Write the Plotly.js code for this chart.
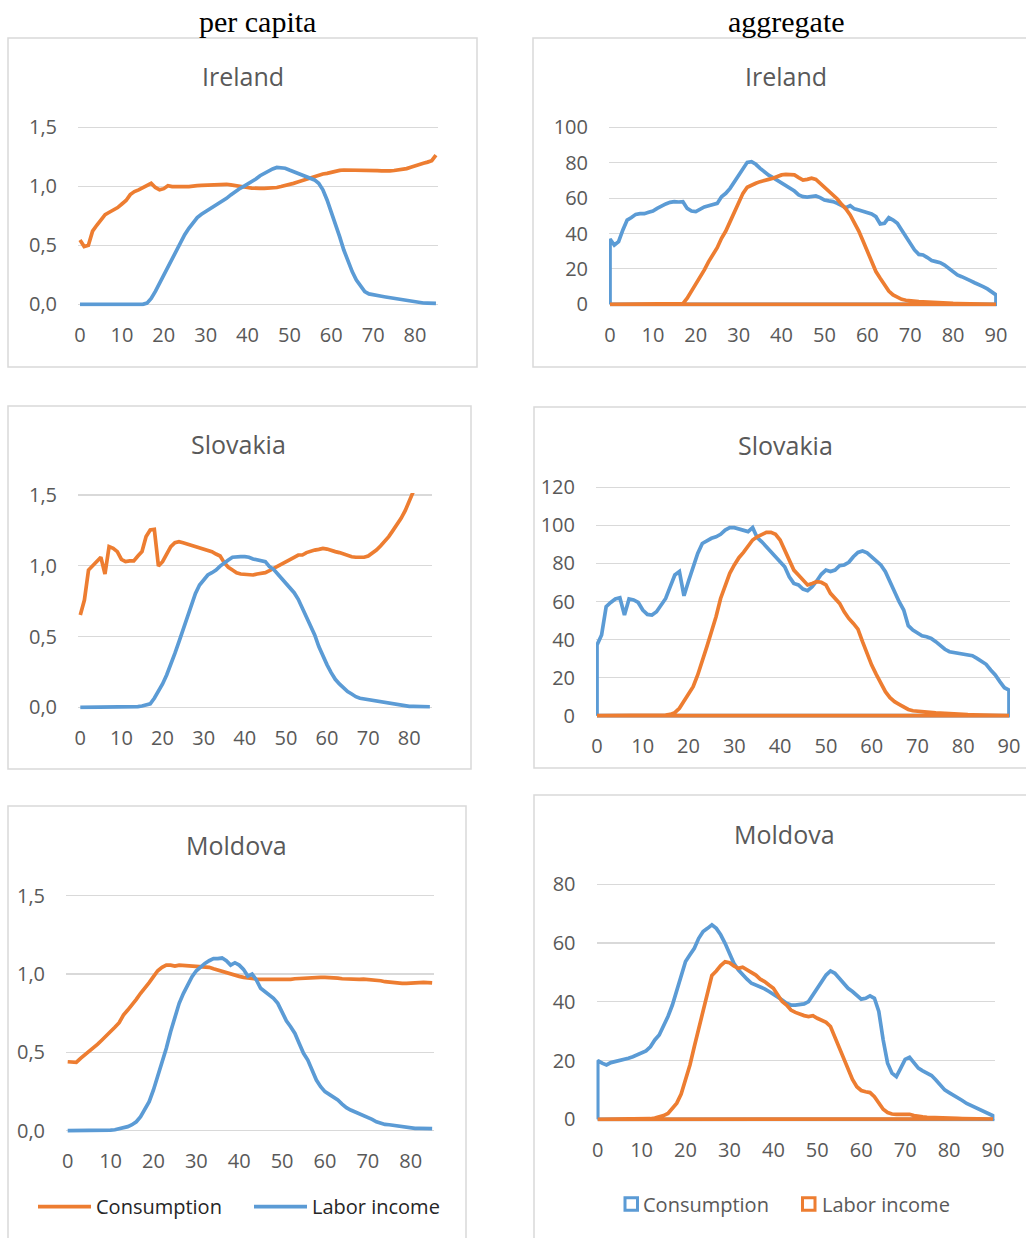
<!DOCTYPE html>
<html><head><meta charset="utf-8">
<script src="https://cdn.plot.ly/plotly-3.0.1.min.js"></script>
<style>html,body{margin:0;padding:0;background:#fff}#chart{width:1026px;height:1238px}</style>
</head><body><div id="chart"></div>
<script>
// ---------- DATA ----------
const agesPerCapita = [0,1,2,3,4,5,6,7,8,9,10,11,12,13,14,15,16,17,18,19,20,21,22,23,24,25,26,27,28,29,30,31,32,33,34,35,36,37,38,39,40,41,42,43,44,45,46,47,48,49,50,51,52,53,54,55,56,57,58,59,60,61,62,63,64,65,66,67,68,69,70,71,72,73,74,75,76,77,78,79,80,81,82,83,84,85];
const agesAggregate = [0,1,2,3,4,5,6,7,8,9,10,11,12,13,14,15,16,17,18,19,20,21,22,23,24,25,26,27,28,29,30,31,32,33,34,35,36,37,38,39,40,41,42,43,44,45,46,47,48,49,50,51,52,53,54,55,56,57,58,59,60,61,62,63,64,65,66,67,68,69,70,71,72,73,74,75,76,77,78,79,80,81,82,83,84,85,86,87,88,89,90];

const seriesNames = ['Consumption', 'Labor income'];
const countries = ['Ireland', 'Slovakia', 'Moldova'];
const columnHeaders = ['per capita', 'aggregate'];

const perCapitaTicks = [0,10,20,30,40,50,60,70,80];
const aggregateTicks = [0,10,20,30,40,50,60,70,80,90];
const perCapitaYTickVals = [0,0.5,1,1.5];
const perCapitaYTickText = ['0,0','0,5','1,0','1,5'];
const irelandAggYTicks = [0,20,40,60,80,100];
const slovakiaAggYTicks = [0,20,40,60,80,100,120];
const moldovaAggYTicks = [0,20,40,60,80];

// Ireland per capita
const irelandPcConsumption = [0.545,0.49,0.50,0.62,0.67,0.71,0.76,0.78,0.80,0.82,0.85,0.88,0.93,0.955,0.97,0.99,1.01,1.025,0.99,0.97,0.98,1.005,0.997,0.995,0.995,0.997,0.998,0.998,1.005,1.008,1.01,1.012,1.016,1.02,1.018,1.017,1.012,1.005,0.998,0.993,0.99,0.985,0.98,0.982,0.983,0.983,0.985,0.99,0.998,1.005,1.015,1.025,1.036,1.048,1.06,1.073,1.085,1.096,1.104,1.11,1.12,1.13,1.135,1.138,1.138,1.138,1.138,1.137,1.136,1.135,1.134,1.132,1.13,1.128,1.13,1.134,1.138,1.143,1.15,1.162,1.175,1.185,1.195,1.205,1.217,1.265];
const irelandPcLabor = [0,0,0,0,0,0,0,0,0,0,0,0,0,0,0,0,0.01,0.05,0.11,0.18,0.25,0.32,0.39,0.46,0.525,0.59,0.644,0.695,0.735,0.763,0.785,0.808,0.828,0.847,0.87,0.898,0.927,0.955,0.977,0.997,1.017,1.04,1.062,1.09,1.11,1.13,1.147,1.16,1.158,1.153,1.138,1.124,1.11,1.10,1.09,1.073,1.054,1.025,0.97,0.884,0.785,0.686,0.573,0.46,0.362,0.277,0.206,0.15,0.107,0.088,0.079,0.074,0.068,0.062,0.056,0.049,0.042,0.035,0.028,0.022,0.017,0.014,0.011,0.01,0.009,0.008];

// Ireland aggregate
const irelandAggConsumption = [36.9,33.5,35.4,42,47.6,49,50.8,51.2,51.2,52,52.7,54.2,55.7,56.7,57.6,58,57.8,58,54.2,52.7,52.4,53.9,55,55.7,56.1,57,60.8,62.7,65.5,69.3,72.5,76.8,80.2,80.6,79.1,76.8,74.6,73,71.6,70.2,68.7,67.4,65.5,64,61.8,60.8,60.6,60.8,61.2,60.3,58.9,58.4,58,57,55.7,54.6,55.7,53.9,53.3,52.7,52,51,49.5,45.4,45.8,49,47.6,45.8,42,38.2,34.5,30.7,28.2,27.9,26.4,24.7,24.1,23.5,22.2,20.3,18.5,16.6,15.6,14.7,13.4,12.2,11.3,10,8.7,7.2,5.3];
const irelandAggLabor = [0,0,0,0,0,0,0,0,0,0,0,0,0,0,0,0,0,0.4,3.4,7.2,10.9,14.7,19.4,24.1,28.2,32,37.3,41.4,46.7,52.4,57.6,62.7,66.1,67.4,68.4,69.3,69.7,70.6,71.2,72.1,73.1,73.4,73.4,73.1,71.6,70.2,70.6,71.2,70.6,68.4,65.9,63.7,61.8,59.5,56.5,53.9,50.5,46.3,41.4,35.8,29.8,24.1,18.5,14.7,10.9,7.5,5.3,3.8,2.8,2.3,1.9,1.7,1.5,1.4,1.2,1.1,1.0,0.85,0.75,0.6,0.5,0.45,0.4,0.35,0.3,0.3,0.25,0.25,0.2,0.2,0.2];

// Slovakia per capita
const slovakiaPcConsumption = [0.652,0.758,0.97,0.998,1.029,1.06,0.942,1.135,1.123,1.10,1.045,1.029,1.034,1.034,1.069,1.10,1.206,1.253,1.257,0.998,1.029,1.088,1.135,1.163,1.17,1.163,1.154,1.147,1.14,1.13,1.123,1.111,1.10,1.083,1.069,1.022,0.989,0.97,0.951,0.942,0.94,0.937,0.935,0.942,0.947,0.951,0.965,0.982,0.994,1.01,1.029,1.045,1.06,1.076,1.076,1.093,1.104,1.111,1.116,1.123,1.118,1.107,1.10,1.093,1.083,1.071,1.064,1.06,1.06,1.06,1.069,1.088,1.111,1.14,1.17,1.206,1.248,1.288,1.335,1.389,1.453,1.51,1.57,1.64,1.72,1.80];
const slovakiaPcLabor = [0,0,0,0,0,0,0,0,0,0,0,0,0,0,0.005,0.009,0.014,0.024,0.064,0.11,0.165,0.228,0.30,0.381,0.464,0.551,0.64,0.723,0.805,0.864,0.904,0.935,0.951,0.97,0.998,1.022,1.041,1.06,1.064,1.064,1.064,1.06,1.048,1.043,1.036,1.029,0.994,0.975,0.942,0.911,0.881,0.848,0.81,0.763,0.70,0.64,0.57,0.511,0.429,0.358,0.30,0.245,0.198,0.165,0.134,0.111,0.094,0.075,0.064,0.059,0.054,0.05,0.045,0.04,0.035,0.03,0.026,0.02,0.014,0.01,0.007,0.006,0.005,0.005,0.004,0.004];

// Slovakia aggregate
const slovakiaAggConsumption = [37.1,42.4,57.3,59.5,61.3,62,52.9,61.3,60.8,59.5,55.5,53.2,52.9,54.6,58.1,61.6,67.8,73.9,75.7,63,70.8,78.8,85.3,90.5,91.9,93.2,94,95.3,97.5,98.8,98.8,98.1,97,96.7,98.8,93.5,91.4,88.8,86.5,83.9,81.3,78.3,73,69.5,68.7,66.5,65.7,67.8,70.8,74.3,76.5,75.7,76.5,78.8,79.2,80.6,83.5,85.8,86.5,85.6,83.5,81.3,79.2,75.7,70.4,64.3,59.9,55.5,47.3,45,43.6,42,41.5,40.6,38.9,36.8,34.9,33.6,33.1,32.7,32.2,31.9,31.5,30.1,28.7,27,24,21.4,17.9,14.7,13.5];
const slovakiaAggLabor = [0,0,0,0,0,0,0,0,0,0,0,0,0,0,0,0.35,0.7,1.6,3.9,7.4,10.9,15.2,21.4,28.4,36.3,44.1,52,61.6,68.7,74.8,79.2,83,85.8,88.8,92.3,94,95.3,96.3,96.3,95.3,92.3,87,80.9,76.5,73.9,71.3,68.7,69.5,70.4,70.1,68.7,64.3,61.3,59,54.6,51.1,48.5,45.5,38.9,32.7,26.6,21.7,17,12.6,9.5,7.4,6,4.7,3.3,2.6,2.3,2.1,1.9,1.7,1.5,1.4,1.2,1.05,0.9,0.75,0.6,0.55,0.5,0.45,0.4,0.35,0.3,0.3,0.25,0.2,0.2];

// Moldova per capita
const moldovaPcConsumption = [0.44,0.436,0.436,0.462,0.483,0.504,0.526,0.553,0.579,0.604,0.632,0.66,0.689,0.738,0.77,0.802,0.838,0.877,0.909,0.945,0.983,1.021,1.043,1.057,1.057,1.051,1.057,1.055,1.053,1.053,1.051,1.049,1.047,1.043,1.034,1.026,1.013,1.004,0.998,0.991,0.985,0.979,0.974,0.97,0.968,0.966,0.966,0.964,0.964,0.964,0.964,0.964,0.966,0.97,0.972,0.974,0.977,0.979,0.979,0.979,0.979,0.979,0.977,0.974,0.97,0.968,0.966,0.966,0.966,0.968,0.966,0.964,0.962,0.957,0.951,0.947,0.943,0.94,0.94,0.94,0.943,0.945,0.947,0.947,0.945,0.943];
const moldovaPcLabor = [0,0,0,0,0,0,0,0,0,0.002,0.004,0.006,0.011,0.017,0.026,0.038,0.057,0.089,0.132,0.185,0.26,0.345,0.43,0.526,0.632,0.728,0.813,0.877,0.936,0.983,1.021,1.047,1.068,1.085,1.098,1.098,1.102,1.085,1.057,1.072,1.057,1.03,0.987,1.0,0.962,0.909,0.887,0.872,0.845,0.813,0.76,0.702,0.664,0.621,0.557,0.494,0.451,0.387,0.323,0.281,0.249,0.232,0.217,0.196,0.17,0.147,0.132,0.121,0.111,0.10,0.089,0.072,0.057,0.047,0.04,0.038,0.034,0.03,0.023,0.017,0.015,0.015,0.015,0.015,0.013,0.013];

// Moldova aggregate
const moldovaAggConsumption = [20,19.1,18.5,19.3,19.6,19.9,20.2,20.8,21.3,21.9,22.5,23.3,24.7,27,28.7,31.6,35,38.9,44,49.7,53.7,56,58.2,61.6,63.9,65,66.2,65,62.8,59.9,56.5,53.1,50.9,49.1,47.7,46.3,45.7,45.2,44.4,43.5,42.6,41.8,40.6,39.5,38.9,38.9,39.2,39.3,40.1,42.3,44.8,47.1,49.1,50.5,49.7,48,46.3,44.6,43.5,42.3,40.9,41.2,42,41.2,36.7,27,19.1,15.7,14.5,17.4,20.4,21.1,19.1,17.4,16.5,15.7,14.9,13.4,11.7,10,9.1,8.3,7.5,6.4,5.4,4.7,3.9,3,2.4,1.8,1.2];
const moldovaAggLabor = [0,0,0,0,0,0,0,0,0,0,0,0.1,0.2,0.45,0.8,1.25,2.0,3.8,5.5,8.6,13.5,18.5,24.8,31,37.5,44,49,50.5,52.3,53.6,53.3,52.2,51.4,51.8,50.9,49.7,49.1,47.7,46.9,45.7,44.6,42.3,40.1,38.9,37.2,36.4,35.8,35.3,35,35.3,34.4,33.6,33,31.6,28.1,24.7,21.3,17.4,13.6,11.1,9.8,9.4,9.1,7.7,5.4,3.4,2.3,1.8,1.7,1.8,1.8,1.7,1.25,0.9,0.8,0.7,0.6,0.5,0.45,0.4,0.35,0.3,0.3,0.25,0.25,0.2,0.2,0.15,0.15,0.1,0.1];

// ---------- STYLE / LAYOUT ----------
const BLUE = '#5b9bd5', ORANGE = '#ed7d31';
const W = 1026, H = 1238;
const LW = 3.7;
const TICKFONT = {family: 'Open Sans, sans-serif', size: 20, color: '#595959'};

function valAt(a, p) { return a.v0 + (p - a.p0) * (a.v1 - a.v0) / (a.p1 - a.p0); }

const panels = [
  {title: countries[0], kind: 'pc', cx: 242.5, cy: 76, box: [8, 38, 477, 367],
   x: {p0: 80, v0: 0, p1: 415, v1: 80, lo: 78, hi: 438},
   y: {p0: 304.3, v0: 0, p1: 127.3, v1: 1.5, lo: 125, hi: 306.5},
   ages: agesPerCapita, cons: irelandPcConsumption, lab: irelandPcLabor, yt: perCapitaYTickVals, ytt: perCapitaYTickText},
  {title: countries[0], kind: 'agg', cx: 785.5, cy: 76, box: [533, 38, 1040, 367],
   x: {p0: 610, v0: 0, p1: 996, v1: 90, lo: 609, hi: 997},
   y: {p0: 304.3, v0: 0, p1: 127.3, v1: 100, lo: 125, hi: 306.5},
   ages: agesAggregate, cons: irelandAggConsumption, lab: irelandAggLabor, yt: irelandAggYTicks},
  {title: countries[1], kind: 'pc', cx: 238.7, cy: 444, box: [8, 406, 471, 769],
   x: {p0: 80.3, v0: 0, p1: 409.3, v1: 80, lo: 78, hi: 432},
   y: {p0: 707.3, v0: 0, p1: 495, v1: 1.5, lo: 493, hi: 709.5},
   ages: agesPerCapita, cons: slovakiaPcConsumption, lab: slovakiaPcLabor, yt: perCapitaYTickVals, ytt: perCapitaYTickText},
  {title: countries[1], kind: 'agg', cx: 785.3, cy: 444.5, box: [534, 407, 1040, 768],
   x: {p0: 597, v0: 0, p1: 1009, v1: 90, lo: 596, hi: 1010},
   y: {p0: 715.7, v0: 0, p1: 487.3, v1: 120, lo: 485, hi: 718},
   ages: agesAggregate, cons: slovakiaAggConsumption, lab: slovakiaAggLabor, yt: slovakiaAggYTicks},
  {title: countries[2], kind: 'pc', cx: 236.5, cy: 844.5, box: [8, 806, 466, 1260],
   x: {p0: 67.7, v0: 0, p1: 410.7, v1: 80, lo: 66, hi: 434},
   y: {p0: 1130.7, v0: 0, p1: 895.7, v1: 1.5, lo: 893.5, hi: 1133},
   ages: agesPerCapita, cons: moldovaPcConsumption, lab: moldovaPcLabor, yt: perCapitaYTickVals, ytt: perCapitaYTickText},
  {title: countries[2], kind: 'agg', cx: 784.3, cy: 833.5, box: [534, 795, 1040, 1260],
   x: {p0: 597.7, v0: 0, p1: 993, v1: 90, lo: 596.5, hi: 994.5},
   y: {p0: 1119.3, v0: 0, p1: 884.3, v1: 80, lo: 882, hi: 1121.5},
   ages: agesAggregate, cons: moldovaAggConsumption, lab: moldovaAggLabor, yt: moldovaAggYTicks}
];

const traces = [];
const layout = {
  width: W, height: H, margin: {l: 0, r: 0, t: 0, b: 0},
  paper_bgcolor: '#ffffff', plot_bgcolor: 'rgba(0,0,0,0)',
  showlegend: false, shapes: [], annotations: [],
  font: {family: 'Open Sans, sans-serif', color: '#595959'}
};

function closed(ages, vals) {
  return {
    x: [ages[0]].concat(ages, [ages[ages.length - 1], ages[0]]),
    y: [0].concat(vals, [0, 0])
  };
}

panels.forEach((p, i) => {
  const n = i === 0 ? '' : String(i + 1);
  const xa = 'x' + n, ya = 'y' + n;
  layout['xaxis' + n] = {
    domain: [p.x.lo / W, p.x.hi / W],
    range: [valAt(p.x, p.x.lo), valAt(p.x, p.x.hi)],
    anchor: ya, showgrid: false, zeroline: false, showline: false, ticks: '',
    tickmode: 'array', tickvals: p.kind === 'pc' ? perCapitaTicks : aggregateTicks,
    tickfont: TICKFONT, ticklabelstandoff: 14, fixedrange: true
  };
  const yax = {
    domain: [1 - p.y.hi / H, 1 - p.y.lo / H],
    range: [valAt(p.y, p.y.hi), valAt(p.y, p.y.lo)],
    anchor: xa, showgrid: true, gridcolor: '#d9d9d9', gridwidth: 1.2,
    zeroline: false, showline: false, ticks: '',
    tickmode: 'array', tickvals: p.yt,
    tickfont: TICKFONT, ticklabelstandoff: 20, fixedrange: true
  };
  if (p.ytt) yax.ticktext = p.ytt;
  layout['yaxis' + n] = yax;

  if (p.kind === 'pc') {
    traces.push({x: p.ages, y: p.cons, xaxis: xa, yaxis: ya, mode: 'lines', name: seriesNames[0],
      line: {color: ORANGE, width: LW}, hoverinfo: 'skip'});
    traces.push({x: p.ages, y: p.lab, xaxis: xa, yaxis: ya, mode: 'lines', name: seriesNames[1],
      line: {color: BLUE, width: LW}, hoverinfo: 'skip'});
  } else {
    const c = closed(p.ages, p.cons), l = closed(p.ages, p.lab);
    traces.push({x: c.x, y: c.y, xaxis: xa, yaxis: ya, mode: 'lines', name: seriesNames[0],
      line: {color: BLUE, width: LW}, hoverinfo: 'skip'});
    traces.push({x: l.x, y: l.y, xaxis: xa, yaxis: ya, mode: 'lines', name: seriesNames[1],
      line: {color: ORANGE, width: LW}, hoverinfo: 'skip'});
  }

  layout.shapes.push({type: 'rect', xref: 'paper', yref: 'paper',
    x0: p.box[0] / W, x1: p.box[2] / W, y0: 1 - p.box[3] / H, y1: 1 - p.box[1] / H,
    line: {color: '#d9d9d9', width: 1.5}, fillcolor: 'rgba(0,0,0,0)', layer: 'below'});
  layout.annotations.push({text: p.title, xref: 'paper', yref: 'paper',
    x: p.cx / W, y: 1 - p.cy / H, xanchor: 'center', yanchor: 'middle', showarrow: false,
    font: {family: 'Open Sans, sans-serif', size: 25, color: '#595959'}});
});

// column headers
[[columnHeaders[0], 257], [columnHeaders[1], 786]].forEach(h => {
  layout.annotations.push({text: h[0], xref: 'paper', yref: 'paper', x: h[1] / W, y: 1 - 21 / H,
    xanchor: 'center', yanchor: 'middle', showarrow: false,
    font: {family: 'Liberation Serif, Times New Roman, serif', size: 30, color: '#000000'}});
});

// left legend (line samples)
const legY = 1206.7;
[[ORANGE, 38, 91, seriesNames[0], 94], [BLUE, 254, 307, seriesNames[1], 310]].forEach(l => {
  layout.shapes.push({type: 'line', xref: 'paper', yref: 'paper',
    x0: l[1] / W, x1: l[2] / W, y0: 1 - legY / H, y1: 1 - legY / H, line: {color: l[0], width: 3.8}});
  layout.annotations.push({text: l[3], xref: 'paper', yref: 'paper', x: l[4] / W, y: 1 - legY / H,
    xanchor: 'left', yanchor: 'middle', showarrow: false,
    font: {family: 'Open Sans, sans-serif', size: 20, color: '#262626'}});
});
// right legend (open squares)
const legY2 = 1204;
[[BLUE, 625, seriesNames[0], 641], [ORANGE, 802.5, seriesNames[1], 819.5]].forEach(l => {
  layout.shapes.push({type: 'rect', xref: 'paper', yref: 'paper',
    x0: l[1] / W, x1: (l[1] + 12.5) / W, y0: 1 - (legY2 + 6.25) / H, y1: 1 - (legY2 - 6.25) / H,
    line: {color: l[0], width: 3}, fillcolor: 'rgba(0,0,0,0)'});
  layout.annotations.push({text: l[2], xref: 'paper', yref: 'paper', x: l[3] / W, y: 1 - legY2 / H,
    xanchor: 'left', yanchor: 'middle', showarrow: false,
    font: {family: 'Open Sans, sans-serif', size: 20, color: '#595959'}});
});

Plotly.newPlot('chart', traces, layout, {displayModeBar: false, staticPlot: true});
</script>
</body></html>
